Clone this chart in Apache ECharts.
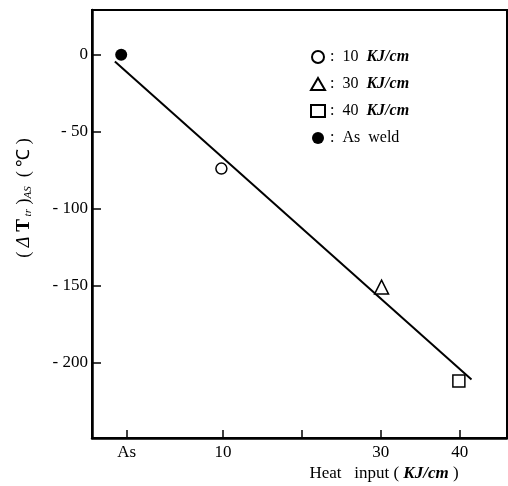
<!DOCTYPE html>
<html>
<head>
<meta charset="utf-8">
<script src="https://cdn.jsdelivr.net/npm/echarts@6/dist/echarts.min.js"></script>
<style>
    html, body { margin: 0; padding: 0; background: #fff; }
    #chart { width: 508px; height: 486px; }
</style>
</head>
<body>
<div id="chart"></div>
<script>
// heat input points (x position on axis, delta T in deg C)
const heatNames = ['10 KJ/cm', '30 KJ/cm', '40 KJ/cm'];
const heatX = [9.8, 30.1, 39.9];
const heatDeltaT = [-74, -151, -212];
const heatSymbols = ['circle', 'triangle', 'rect'];
const heatSizes = [11, 14, 12];

// as weld point
const asWeldX = -2.9;
const asWeldY = 0;

// regression line end points
const fitX = [-3.7, 41.5];
const fitY = [-4.5, -211];

// axis ticks
const asTick = -2.2;
const xTicks = [asTick, 10, 20, 30, 40];
const xLabels = [asTick, 10, 30, 40];
const yTicks = [0, -50, -100, -150, -200];

const serif = 'Liberation Serif';

const chartDom = document.getElementById('chart');
const myChart = echarts.init(chartDom);

const series = [{
    type: 'line',
    data: [[fitX[0], fitY[0]], [fitX[1], fitY[1]]],
    symbol: 'none',
    lineStyle: { color: '#000', width: 2 },
    silent: true,
    z: 1
}];

heatNames.forEach((name, i) => {
    series.push({
        name: name,
        type: 'scatter',
        data: [[heatX[i], heatDeltaT[i]]],
        symbol: heatSymbols[i],
        symbolSize: heatSizes[i],
        itemStyle: { color: '#fff', borderColor: '#000', borderWidth: 1.5, opacity: 1 },
        z: 3
    });
});

series.push({
    name: 'As weld',
    type: 'scatter',
    data: [[asWeldX, asWeldY]],
    symbol: 'circle',
    symbolSize: 12,
    itemStyle: { color: '#000', opacity: 1 },
    z: 3
});

const option = {
    animation: false,
    backgroundColor: '#fff',
    grid: {
        left: 92, right: 1, top: 10, bottom: 48,
        show: true, borderColor: '#000', borderWidth: 2
    },
    legend: {
        data: heatNames.concat(['As weld']),
        orient: 'vertical',
        left: 305,
        top: 44,
        itemGap: 11,
        itemWidth: 14,
        itemHeight: 12,
        textStyle: {
            fontFamily: serif, fontSize: 16, color: '#000',
            rich: {
                i: { fontFamily: serif, fontStyle: 'italic', fontWeight: 'bold', fontSize: 16, color: '#000' }
            }
        },
        formatter: function (name) {
            if (name === 'As weld') {
                return ':  As  weld';
            }
            const parts = name.split(' ');
            return ':  ' + parts[0] + '  {i|' + parts[1] + '}';
        }
    },
    xAxis: {
        type: 'value',
        min: -6.6,
        max: 46,
        splitLine: { show: false },
        axisLine: { show: true, onZero: false, lineStyle: { color: '#000', width: 2.5 } },
        axisTick: {
            show: true, inside: true, length: 8,
            customValues: xTicks,
            lineStyle: { color: '#000', width: 1.5 }
        },
        axisLabel: {
            customValues: xLabels,
            margin: 6,
            fontFamily: serif, fontSize: 17, color: '#000',
            formatter: function (v) {
                return Math.abs(v - asTick) < 0.01 ? 'As' : String(v);
            }
        }
    },
    yAxis: {
        type: 'value',
        min: -249,
        max: 29,
        splitLine: { show: false },
        axisLine: { show: true, onZero: false, lineStyle: { color: '#000', width: 2.5 } },
        axisTick: {
            show: true, inside: true, length: 9,
            customValues: yTicks,
            lineStyle: { color: '#000', width: 1.5 }
        },
        axisLabel: {
            customValues: yTicks,
            margin: 4,
            fontFamily: serif, fontSize: 17, color: '#000',
            formatter: function (v) {
                return v === 0 ? '0' : '- ' + Math.abs(v);
            }
        }
    },
    graphic: [{
        type: 'text',
        x: 24,
        y: 198,
        rotation: Math.PI / 2,
        style: {
            text: '{p|( }{d|Δ}{t| T}{s| tr}{p| )}{s|AS}{p|  ( ℃ )}',
            align: 'center',
            verticalAlign: 'middle',
            fill: '#000',
            rich: {
                p: { fontFamily: serif, fontSize: 18, color: '#000' },
                d: { fontFamily: serif, fontSize: 18, fontStyle: 'italic', color: '#000' },
                t: { fontFamily: serif, fontSize: 19, fontWeight: 'bold', color: '#000' },
                s: { fontFamily: serif, fontSize: 11, fontStyle: 'italic', color: '#000', padding: [9, 0, 0, 0] }
            }
        }
    }, {
        type: 'text',
        x: 384,
        y: 474,
        style: {
            text: '{n|Heat   input (}{b| KJ/cm }{n|)}',
            align: 'center',
            verticalAlign: 'middle',
            fill: '#000',
            rich: {
                n: { fontFamily: serif, fontSize: 17, color: '#000' },
                b: { fontFamily: serif, fontSize: 17, fontStyle: 'italic', fontWeight: 'bold', color: '#000' }
            }
        }
    }],
    series: series
};
myChart.setOption(option);
</script>
</body>
</html>
